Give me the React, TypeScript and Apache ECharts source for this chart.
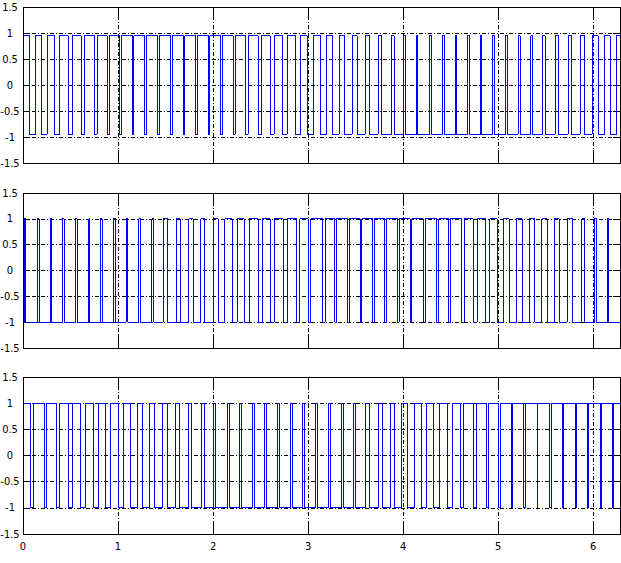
import React, { useEffect, useRef } from "react";
import * as echarts from "echarts";

// ---- data ----
const X_MIN = 0;
const X_MAX = 6.2832;
const Y_MIN = -1.5;
const Y_MAX = 1.5;
const X_TICK_STEP = 1;
const Y_TICK_STEP = 0.5;

// top panel: amplitude and switching instants (starts high)
const topLevel = 0.95;
const topStartsHigh = true;
const topSwitches = [
  0.0702, 0.1298, 0.1930, 0.2526, 0.3298, 0.3860, 0.4737, 0.5193,
  0.6105, 0.6491, 0.7509, 0.7789, 0.8842, 0.9123, 1.0184, 1.0342,
  1.1518, 1.1676, 1.2816, 1.2974, 1.4184, 1.4342, 1.5553, 1.5711,
  1.6886, 1.7044, 1.8184, 1.8342, 1.9518, 1.9676, 2.0798, 2.0956,
  2.2105, 2.2316, 2.3439, 2.3684, 2.4737, 2.5088, 2.6000, 2.6421,
  2.7333, 2.7789, 2.8667, 2.9228, 2.9895, 3.0596, 3.1298, 3.1930,
  3.2596, 3.3263, 3.3860, 3.4632, 3.5158, 3.6000, 3.6491, 3.7368,
  3.7719, 3.8772, 3.9053, 4.0070, 4.0281, 4.1396, 4.1554, 4.2798,
  4.2956, 4.4166, 4.4324, 4.5500, 4.5658, 4.6798, 4.6956, 4.8132,
  4.8290, 4.9430, 4.9588, 5.0798, 5.0956, 5.2105, 5.2316, 5.3465,
  5.3623, 5.4702, 5.4947, 5.6000, 5.6386, 5.7368, 5.7719, 5.8632,
  5.9088, 5.9895, 6.0526, 6.1228, 6.1789, 6.2456,
];

// middle panel (starts low)
const middleLevel = 1;
const middleStartsHigh = false;
const middleSwitches = [
  0.0158, 0.0298, 0.1535, 0.1693, 0.2877, 0.3000, 0.4166, 0.4324,
  0.5535, 0.5693, 0.6912, 0.7035, 0.8166, 0.8324, 0.9509, 0.9719,
  1.0842, 1.1018, 1.2202, 1.2360, 1.3544, 1.3754, 1.4737, 1.5193,
  1.6140, 1.6526, 1.7439, 1.7895, 1.8702, 1.9123, 2.0000, 2.0526,
  2.1228, 2.2000, 2.2526, 2.3263, 2.3789, 2.4737, 2.5193, 2.6000,
  2.6421, 2.7368, 2.7789, 2.8807, 2.9123, 3.0000, 3.0281, 3.1544,
  3.1789, 3.2833, 3.2991, 3.4166, 3.4324, 3.5500, 3.5658, 3.6798,
  3.6956, 3.8096, 3.8254, 3.9430, 3.9588, 4.0763, 4.0921, 4.2105,
  4.2351, 4.3509, 4.3754, 4.4833, 4.4991, 4.6140, 4.6421, 4.7368,
  4.7789, 4.8667, 4.9123, 4.9895, 5.0526, 5.1158, 5.1930, 5.2526,
  5.3263, 5.3860, 5.4596, 5.5158, 5.5930, 5.6421, 5.7263, 5.7860,
  5.8807, 5.9116, 6.0140, 6.0386, 6.1509, 6.1667,
];

// bottom panel (starts high)
const bottomLevel = 1;
const bottomStartsHigh = true;
const bottomSwitches = [
  0.0807, 0.1053, 0.2211, 0.2456, 0.3509, 0.3789, 0.4737, 0.5193,
  0.6070, 0.6561, 0.7368, 0.7895, 0.8702, 0.9228, 1.0000, 1.0596,
  1.1298, 1.2000, 1.2561, 1.3333, 1.3825, 1.4667, 1.5193, 1.6035,
  1.6491, 1.7439, 1.7719, 1.8772, 1.9123, 2.0061, 2.0219, 2.1474,
  2.1684, 2.2798, 2.2956, 2.4202, 2.4360, 2.5430, 2.5588, 2.6798,
  2.6956, 2.8166, 2.8324, 2.9465, 2.9623, 3.0798, 3.0956, 3.2105,
  3.2316, 3.3474, 3.3684, 3.4772, 3.5018, 3.6070, 3.6421, 3.7368,
  3.7825, 3.8667, 3.9123, 3.9860, 4.0491, 4.1228, 4.1930, 4.2456,
  4.3228, 4.3789, 4.4632, 4.5158, 4.6035, 4.6386, 4.7368, 4.7719,
  4.8772, 4.9018, 5.0035, 5.0246, 5.1395, 5.1553, 5.2728, 5.2886,
  5.4105, 5.4196, 5.5430, 5.5588, 5.6763, 5.6921, 5.8140, 5.8231,
  5.9395, 5.9553, 6.0728, 6.0886, 6.2026, 6.2184,
];

const panels = [
  { switches: topSwitches, level: topLevel, startsHigh: topStartsHigh },
  { switches: middleSwitches, level: middleLevel, startsHigh: middleStartsHigh },
  { switches: bottomSwitches, level: bottomLevel, startsHigh: bottomStartsHigh },
];

// ---- layout / style ----
const GRIDS = [
  { left: 23, top: 7, width: 597, height: 156 },
  { left: 23, top: 193, width: 597, height: 155 },
  { left: 23, top: 377, width: 597, height: 157 },
];
const WAVE_COLOR = "#0000ff";
const FONT =
  "'DejaVu Sans Condensed', 'Liberation Sans Narrow', 'Arial Narrow', 'Liberation Sans', Arial, sans-serif";
const FONT_SIZE = 11;
const GRID_DASH = [4, 2, 1, 2];

function buildWave(switches: number[], level: number, startsHigh: boolean) {
  const pts: number[][] = [];
  let v = startsHigh ? level : -level;
  pts.push([X_MIN, v]);
  for (const t of switches) {
    pts.push([t, v]);
    v = -v;
    pts.push([t, v]);
  }
  pts.push([X_MAX, v]);
  return pts;
}

function buildOption() {
  const grid: any[] = [];
  const xAxis: any[] = [];
  const yAxis: any[] = [];
  const series: any[] = [];
  panels.forEach((p, i) => {
    grid.push({
      ...GRIDS[i],
      show: true,
      borderColor: "#000",
      borderWidth: 1,
      backgroundColor: "#fff",
      containLabel: false,
      outerBoundsMode: "none",
    });
    const isLast = i === panels.length - 1;
    xAxis.push({
      type: "value",
      gridIndex: i,
      position: "bottom",
      min: X_MIN,
      max: X_MAX,
      interval: X_TICK_STEP,
      axisLine: { show: true, onZero: false, lineStyle: { color: "#000", width: 1 } },
      axisTick: { show: true, inside: true, length: 13, lineStyle: { color: "#000", width: 1 } },
      axisLabel: {
        show: isLast,
        margin: 7,
        color: "#000",
        fontSize: FONT_SIZE,
        fontFamily: FONT,
        showMaxLabel: false,
        formatter: (v: number) => (Number.isInteger(v) ? String(v) : ""),
      },
      splitLine: { show: true, lineStyle: { color: "#000", width: 1, type: GRID_DASH } },
    });
    xAxis.push({
      type: "value",
      gridIndex: i,
      position: "top",
      min: X_MIN,
      max: X_MAX,
      interval: X_TICK_STEP,
      axisLine: { show: true, onZero: false, lineStyle: { color: "#000", width: 1 } },
      axisTick: { show: true, inside: true, length: 13, lineStyle: { color: "#000", width: 1 } },
      axisLabel: { show: false },
      splitLine: { show: false },
    });
    yAxis.push({
      type: "value",
      gridIndex: i,
      position: "left",
      min: Y_MIN,
      max: Y_MAX,
      interval: Y_TICK_STEP,
      axisLine: { show: true, onZero: false, lineStyle: { color: "#000", width: 1 } },
      axisTick: { show: true, inside: true, length: 7, lineStyle: { color: "#000", width: 1 } },
      axisLabel: {
        show: true,
        margin: 13,
        align: "center",
        color: "#000",
        fontSize: FONT_SIZE,
        fontFamily: FONT,
      },
      splitLine: { show: true, lineStyle: { color: "#000", width: 1, type: GRID_DASH } },
    });
    yAxis.push({
      type: "value",
      gridIndex: i,
      position: "right",
      min: Y_MIN,
      max: Y_MAX,
      interval: Y_TICK_STEP,
      axisLine: { show: true, onZero: false, lineStyle: { color: "#000", width: 1 } },
      axisTick: { show: true, inside: true, length: 7, lineStyle: { color: "#000", width: 1 } },
      axisLabel: { show: false },
      splitLine: { show: false },
    });
    series.push({
      type: "line",
      xAxisIndex: 2 * i,
      yAxisIndex: 2 * i,
      data: buildWave(p.switches, p.level, p.startsHigh),
      showSymbol: false,
      symbol: "none",
      lineStyle: { color: WAVE_COLOR, width: 1 },
      z: 5,
    });
  });
  return {
    animation: false,
    backgroundColor: "#fff",
    grid,
    xAxis,
    yAxis,
    series,
  };
}

export default function App() {
  const ref = useRef<HTMLDivElement>(null);
  useEffect(() => {
    if (!ref.current) return;
    const chart = echarts.init(ref.current, undefined, { renderer: "svg" });
    chart.setOption(buildOption() as any);
    return () => chart.dispose();
  }, []);
  return (
    <>
      <style>{`body{margin:0;background:#fff}.pwm-chart svg path{shape-rendering:crispEdges}`}</style>
      <div
        ref={ref}
        className="pwm-chart"
        style={{ position: "fixed", left: 0, top: 0, width: 621, height: 563 }}
      />
    </>
  );
}
